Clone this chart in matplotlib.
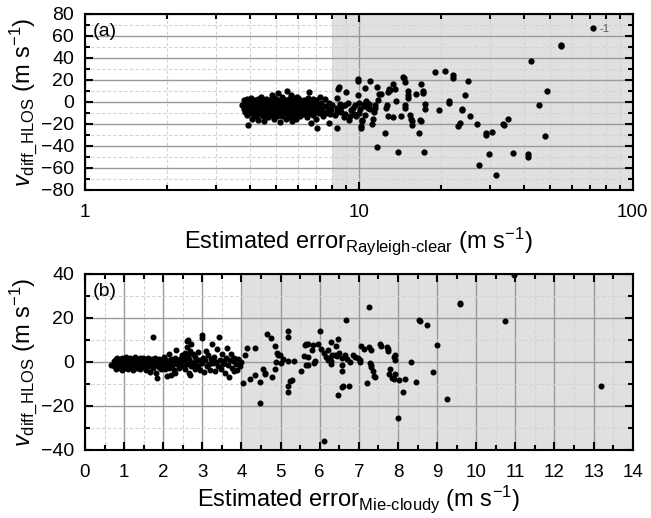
import matplotlib
matplotlib.use("Agg")
import matplotlib.pyplot as plt
from matplotlib.ticker import MultipleLocator, LogLocator, FixedLocator, NullFormatter, FixedFormatter

plt.rcParams['font.family'] = ['Liberation Sans', 'DejaVu Sans']
plt.rcParams['mathtext.fontset'] = 'custom'
plt.rcParams['mathtext.rm'] = 'Liberation Sans'
plt.rcParams['mathtext.it'] = 'Liberation Sans:italic'
plt.rcParams['mathtext.bf'] = 'Liberation Sans:bold'

# ---------------- panel (a): Rayleigh-clear ----------------
a_dense = [
 (3.75,-3),(3.8,-6),(3.8,2),(3.85,-9),(3.85,-1),(3.9,-4),(3.9,-12),(3.92,3),(3.95,-21),(3.95,-7),(3.97,0),(4.0,-5),(4.0,-10),
 (4.02,-2),(4.05,4),(4.05,-8),(4.08,-15),(4.1,-3),(4.1,1),(4.12,-6),(4.15,-11),(4.15,-4),(4.18,2),(4.2,-7),(4.2,-13),
 (4.22,-1),(4.25,-5),(4.25,-9),(4.28,3),(4.3,-3),(4.3,-16),(4.32,-7),(4.35,0),(4.35,-11),(4.38,-4),(4.4,-8),(4.4,5),(4.42,-2),
 (4.45,-6),(4.45,-13),(4.48,1),(4.5,-4),(4.5,-9),(4.52,-17),(4.55,-2),(4.55,-6),(4.58,3),(4.6,-10),(4.6,-4),(4.62,0),(4.65,-7),
 (4.65,-14),(4.68,-3),(4.7,2),(4.7,-8),(4.72,-5),(4.75,-11),(4.75,0),(4.78,-3),(4.8,6),
 (4.8,-6),(4.82,-12),(4.85,-2),(4.85,-9),(4.88,4),(4.9,-4),(4.9,-15),(4.92,-7),(4.95,1),(4.95,-10),(4.98,-3),(5.0,-6),(5.0,3),
 (5.02,-13),(5.05,-1),(5.05,-8),(5.08,8),(5.1,-4),(5.1,-11),(5.12,0),(5.15,-6),(5.15,-18),(5.18,2),(5.2,-3),(5.2,-9),(5.22,5),
 (5.25,-5),(5.25,-13),(5.28,-1),(5.3,-7),(5.3,3),(5.32,-10),(5.35,-4),(5.38,0),(5.4,-8),(5.4,-15),(5.42,2),(5.45,-3),(5.45,-6),
 (5.48,10),(5.5,-1),(5.5,-11),
 (5.52,-5),(5.55,-9),(5.55,3),(5.58,-2),(5.6,-7),(5.6,-14),(5.62,0),(5.65,-4),(5.65,6),(5.68,-10),(5.7,-2),(5.7,-6),(5.72,-17),
 (5.75,1),(5.75,-8),(5.78,-4),(5.8,4),(5.8,-12),(5.82,-1),(5.85,-6),(5.85,-9),(5.88,2),(5.9,-3),(5.9,-15),(5.92,-7),(5.95,0),
 (5.95,5),(5.98,-5),(6.0,-10),(6.0,-2),(6.05,-6),(6.05,3),(6.1,-13),(6.1,-4),(6.15,-1),(6.15,-8),(6.2,1),(6.2,-5),(6.25,-11),
 (6.25,-3),
 (6.3,-7),(6.3,2),(6.35,-4),(6.4,-9),(6.4,0),(6.45,-14),(6.45,-6),(6.5,4),(6.5,-2),(6.55,-10),(6.6,-5),(6.6,9),(6.65,-1),(6.7,-8),
 (6.7,-19),(6.75,-3),(6.8,3),(6.8,-12),(6.85,-6),(6.9,0),(6.9,-9),(6.95,-4),(7.0,-15),(7.0,2),(7.05,-24),(7.05,-7),(7.1,-2),
 (7.15,-10),(7.2,5),(7.2,-5),
 (7.3,-1),(7.35,-8),(7.4,-13),(7.5,-4),(7.55,3),(7.6,-10),(7.7,-6),(7.75,-19),(7.8,-1),(7.85,-11),(7.9,-7),(7.95,-3),
]
a_sparse = [
 (8.3,-24),(8.3,4),(8.2,-12),(8.35,-5),(8.4,12),(8.45,14),(8.5,-7),(8.5,-2),(8.6,-9),(8.3,-9),(8.7,-4),(8.8,-14),(8.9,-3),
 (8.9,-11),(9.0,9),(9.1,-1),(9.2,-16),(9.3,-13),(9.4,-7),(9.5,-5),(9.6,-11),(9.7,-3),(9.8,-13),(9.9,21),(9.9,19),(9.95,6),
 (10.0,-1),(10.0,-10),(10.1,-6),(10.2,-22),(10.2,-24),(10.3,-17),(10.3,-16),(10.4,-2),(10.4,-4),(10.5,-12),(10.5,13),(10.6,1),
 (10.8,-5),(10.9,-2),(11.0,19),(11.0,-6),(11.2,-20),(11.3,-15),(11.4,-9),(11.5,-3),(11.5,-5),(11.6,14),(11.7,2),(11.8,7),
 (11.6,-41),(12.0,7),(12.5,-28),(12.6,-5),(12.7,-3),(12.8,9),(12.8,-13),(12.9,12),(13.0,11),(13.3,-14),(13.3,16),(13.5,12),
 (13.7,1),(13.9,-45),(14.2,-13),(14.5,23),(14.6,22),(14.7,18),(14.7,-3),(14.8,-5),(15.1,10),(15.1,4),(15.1,6),(15.4,-12),
 (15.5,-15),(15.6,-21),(15.7,-17),(16.2,7),(16.6,-28),(16.7,-16),(16.8,-17),(16.8,16),(17.1,10),(17.2,8),(17.3,-45),(17.4,-2),
 (17.4,-6),(18.9,27),(19.7,-7),(20.6,28),(21.4,1),(21.4,-1),(22.0,25),(22.0,22),(23.1,-22),(23.4,-19),(23.9,-6),(23.9,-7),
 (24.5,6),(25.0,19),(25.5,-13),(27.1,-20),(27.5,-57),(29.2,-28),(29.2,-30),(29.9,-47),(30.7,-27),(31.7,-66),(33.5,-20),
 (34.0,-21),(34.9,-15),(36.6,-46),(41.5,-47),(41.5,-50),(42.6,37),(45.3,-3),(47.7,-31),(48.5,10),(54.6,51),(54.6,52),
]
a_x = [p[0] for p in a_dense + a_sparse]
a_y = [p[1] for p in a_dense + a_sparse]

# ---------------- panel (b): Mie-cloudy ----------------
b_dense = [
 (0.66,-1.5),(0.75,0.5),(0.75,-2),(0.78,1.5),(0.8,-0.5),(0.8,-3),(0.82,2),(0.85,0),(0.85,-1.8),(0.88,1),(0.9,-2.5),(0.9,0.5),
 (0.92,-1),(0.95,2),(0.95,-3.5),(0.97,0),(1.0,-1.5),(1.0,1.2),
 (1.02,-2.5),(1.05,0.3),(1.05,2.3),(1.08,-1),(1.1,-3),(1.1,1),(1.12,-0.5),(1.15,2),(1.15,-2),(1.18,0),(1.2,-1.2),(1.2,1.5),
 (1.22,-3.5),(1.25,0.5),(1.25,-2),(1.28,2.5),(1.3,-0.8),(1.3,1),(1.32,-2.8),(1.35,0),(1.38,-1.5),(1.4,1.8),(1.4,-3),(1.42,0.3),
 (1.45,-1),(1.48,2),(1.5,-2.2),
 (1.5,0.5),(1.52,-0.8),(1.55,1.5),(1.55,-3.5),(1.58,0),(1.6,-2),(1.6,2),(1.62,-1),(1.65,0.8),(1.65,-4.5),(1.68,-1.8),(1.7,1.2),
 (1.72,-0.5),(1.75,11.5),(1.75,-2.8),(1.78,0.2),(1.8,2),(1.8,-1.2),(1.82,-5),(1.83,-7.4),(1.85,0.5),(1.88,-2.2),(1.9,1.5),
 (1.92,-0.3),(1.95,-3.2),(1.97,0.8),(2.0,-1.5),
 (2.02,2.5),(2.05,-0.5),(2.05,-3),(2.08,1),(2.1,-6.5),(2.1,-1.8),(2.12,0.2),(2.15,3.5),(2.15,-2.5),(2.18,-0.8),(2.2,1.5),
 (2.2,-5.8),(2.22,-2),(2.25,0.5),(2.28,-3.5),(2.3,-5.2),(2.3,1.8),(2.32,5.5),(2.35,-1),(2.38,0.3),(2.4,-2.8),(2.42,1.2),
 (2.45,-0.5),(2.48,3),(2.5,-1.8),
 (2.52,0.8),(2.55,-3),(2.55,4),(2.58,2),(2.6,-1),(2.6,7),(2.62,9.5),(2.63,10),(2.64,3),(2.65,-5),(2.66,1.5),(2.68,-6),(2.68,5),
 (2.7,-2),(2.72,8),(2.72,0),(2.75,3.5),(2.78,-1.5),(2.8,2.5),(2.82,-3),(2.85,0.5),(2.88,4.5),(2.9,-2),(2.92,1),(2.95,-3.8),
 (2.98,12.3),(2.98,11),(3.0,-0.5),
 (3.02,2),(3.05,-4.5),(3.08,0.8),(3.1,5),(3.12,-2),(3.15,3),(3.18,-1),(3.2,-3.5),(3.22,1.5),(3.25,8),(3.28,-0.5),(3.3,2.5),
 (3.32,-4),(3.35,0),(3.38,6),(3.4,-2),(3.43,11.5),(3.45,1),(3.48,-3),(3.5,3.5),(3.52,-1),(3.55,0.5),(3.58,-5),(3.6,2),(3.62,6.5),
 (3.65,-1.5),(3.68,-7),(3.7,1),(3.72,3.5),(3.75,-2.5),(3.78,0.5),(3.8,-4),(3.82,2),(3.85,-1),(3.88,-3.5),(3.9,1.5),(3.95,-2),
 (4.0,0),(4.03,-9.7),
]
b_sparse = [
 (4.08,3.2),(4.14,6.2),(4.22,-7.9),(4.34,6.2),(4.34,-6),(4.47,-9),(4.47,-18.5),(4.6,-5),(4.6,-5.3),(4.55,-3),(4.65,12.7),
 (4.75,11),(4.77,-7),(4.86,7.2),(4.86,-3),(4.88,0),(4.9,4.2),(4.94,3.4),(4.98,3.3),(5.0,-0.6),(5.05,1.2),(5.19,14.1),
 (5.2,11.5),(5.19,-13.5),(5.19,-10.9),(5.2,0.3),(5.25,-8.5),(5.3,-8.2),(5.33,0.3),(5.53,-4.2),(5.59,2.6),(5.62,7.7),
 (5.66,8.3),(5.7,8.3),(5.69,2.4),(5.64,-1.4),(5.7,-1.4),(5.8,5.5),(5.84,7.8),(5.86,-0.3),(5.87,0.6),(5.96,8.3),(6.0,14.2),
 (6.03,6.1),(6.1,4),(6.12,-35.8),(6.17,2.4),(6.2,0.9),(6.25,2),(6.22,5.5),(6.3,9),(6.3,0.3),(6.28,-1.1),(6.32,3.3),(6.41,7.3),
 (6.46,10.6),(6.46,-15),(6.4,3.3),(6.45,2.8),(6.5,4.2),(6.57,1.8),(6.57,-1.5),(6.57,-4.3),(6.56,-11.3),(6.6,-10.7),(6.65,3),
 (6.66,19.1),(6.7,1.3),(6.74,-11),(6.77,-0.2),(6.85,3.3),(6.91,2.3),(6.97,2),(7.02,0.9),(7.02,0),(7.05,7.4),(7.12,6.1),
 (7.2,-9.7),(7.25,24.9),(7.27,7),(7.29,-0.6),(7.31,5.5),(7.32,-1.2),(7.32,-2.3),(7.36,-4.2),(7.4,-6.2),(7.42,-6.9),(7.55,8.2),
 (7.57,7.3),(7.71,6.7),(7.75,5.8),(7.74,4.8),(7.78,-5.6),(7.8,-3.4),(7.86,-7.4),(7.9,-7.7),(7.92,-5.5),(7.93,0.7),(7.93,3.3),
 (7.91,2.4),(7.99,-25.6),(8.03,-8.2),(8.14,-13.8),(8.18,-7.7),(8.33,0),(8.45,-9),(8.55,19),(8.56,18.5),(8.73,16.8),(8.9,-4.4),
 (8.99,7.9),(9.25,-17),(9.59,27),(9.59,26.4),(10.74,18.8),(10.97,39.5),(13.19,-10.8),
]
b_x = [p[0] for p in b_dense + b_sparse]
b_y = [p[1] for p in b_dense + b_sparse]

W, H = 651, 518
fig = plt.figure(figsize=(W/100, H/100), dpi=100)
ax1 = fig.add_axes([85/W, (H-190)/H, 547.7/W, 176/H])
ax2 = fig.add_axes([85/W, (H-450)/H, 547.7/W, 176/H])

MAJ = '#9a9a9a'
MIN = '#d2d2d2'
SHADE = '#e0e0e0'

def style(ax):
    ax.set_axisbelow(True)
    ax.grid(which='major', color=MAJ, lw=1.0, ls='-')
    ax.grid(which='minor', color=MIN, lw=0.8, ls=(0, (3, 2)))
    for s in ax.spines.values():
        s.set_linewidth(1.5)
    ax.tick_params(which='both', direction='in', top=True, right=True, width=1.5)
    ax.tick_params(which='major', length=6)
    ax.tick_params(which='minor', length=3.5)
    ax.tick_params(axis='x', pad=10, labelsize=13.5)
    ax.tick_params(axis='y', pad=8, labelsize=14)

# panel (a)
ax1.set_xscale('log')
ax1.set_xlim(1, 100)
ax1.set_ylim(-80, 80)
ax1.axvspan(8, 100, color=SHADE, zorder=0, lw=0)
ax1.plot(a_x, a_y, 'o', color='black', ms=3.5, mec='black', label='-1', zorder=3)
ax1.xaxis.set_major_locator(FixedLocator([1, 10, 100]))
ax1.xaxis.set_major_formatter(FixedFormatter(['1', '10', '100']))
ax1.xaxis.set_minor_locator(LogLocator(base=10, subs=range(2, 10)))
ax1.xaxis.set_minor_formatter(NullFormatter())
ax1.yaxis.set_major_locator(MultipleLocator(20))
ax1.yaxis.set_minor_locator(MultipleLocator(10))
style(ax1)
ax1.text(0.014, 0.95, '(a)', transform=ax1.transAxes, fontsize=14, va='top', ha='left')
leg = ax1.legend(loc='upper right', frameon=False, fontsize=8, handletextpad=0.1,
                 handlelength=0.8, borderaxespad=0.5, bbox_to_anchor=(0.975, 1.0))
for t in leg.get_texts():
    t.set_color('#555555')
ax1.set_xlabel(r'Estimated error$_{\text{Rayleigh-clear}}$ (m s$^{-1}$)', fontsize=17, labelpad=3)
ax1.set_ylabel(r'$\mathit{v}_{\mathrm{diff\_HLOS}}$ (m s$^{-1}$)', fontsize=17, labelpad=1)

# panel (b)
ax2.set_xlim(0, 14)
ax2.set_ylim(-40, 40)
ax2.axvspan(4, 14, color=SHADE, zorder=0, lw=0)
ax2.plot(b_x, b_y, 'o', color='black', ms=3.3, mec='black', zorder=3)
ax2.xaxis.set_major_locator(MultipleLocator(1))
ax2.xaxis.set_minor_locator(MultipleLocator(0.5))
ax2.yaxis.set_major_locator(MultipleLocator(20))
ax2.yaxis.set_minor_locator(MultipleLocator(10))
style(ax2)
ax2.text(0.014, 0.95, '(b)', transform=ax2.transAxes, fontsize=14, va='top', ha='left')
ax2.set_xlabel(r'Estimated error$_{\text{Mie-cloudy}}$ (m s$^{-1}$)', fontsize=17, labelpad=2)
ax2.set_ylabel(r'$\mathit{v}_{\mathrm{diff\_HLOS}}$ (m s$^{-1}$)', fontsize=17, labelpad=1)

fig.savefig('out.png', dpi=100)
